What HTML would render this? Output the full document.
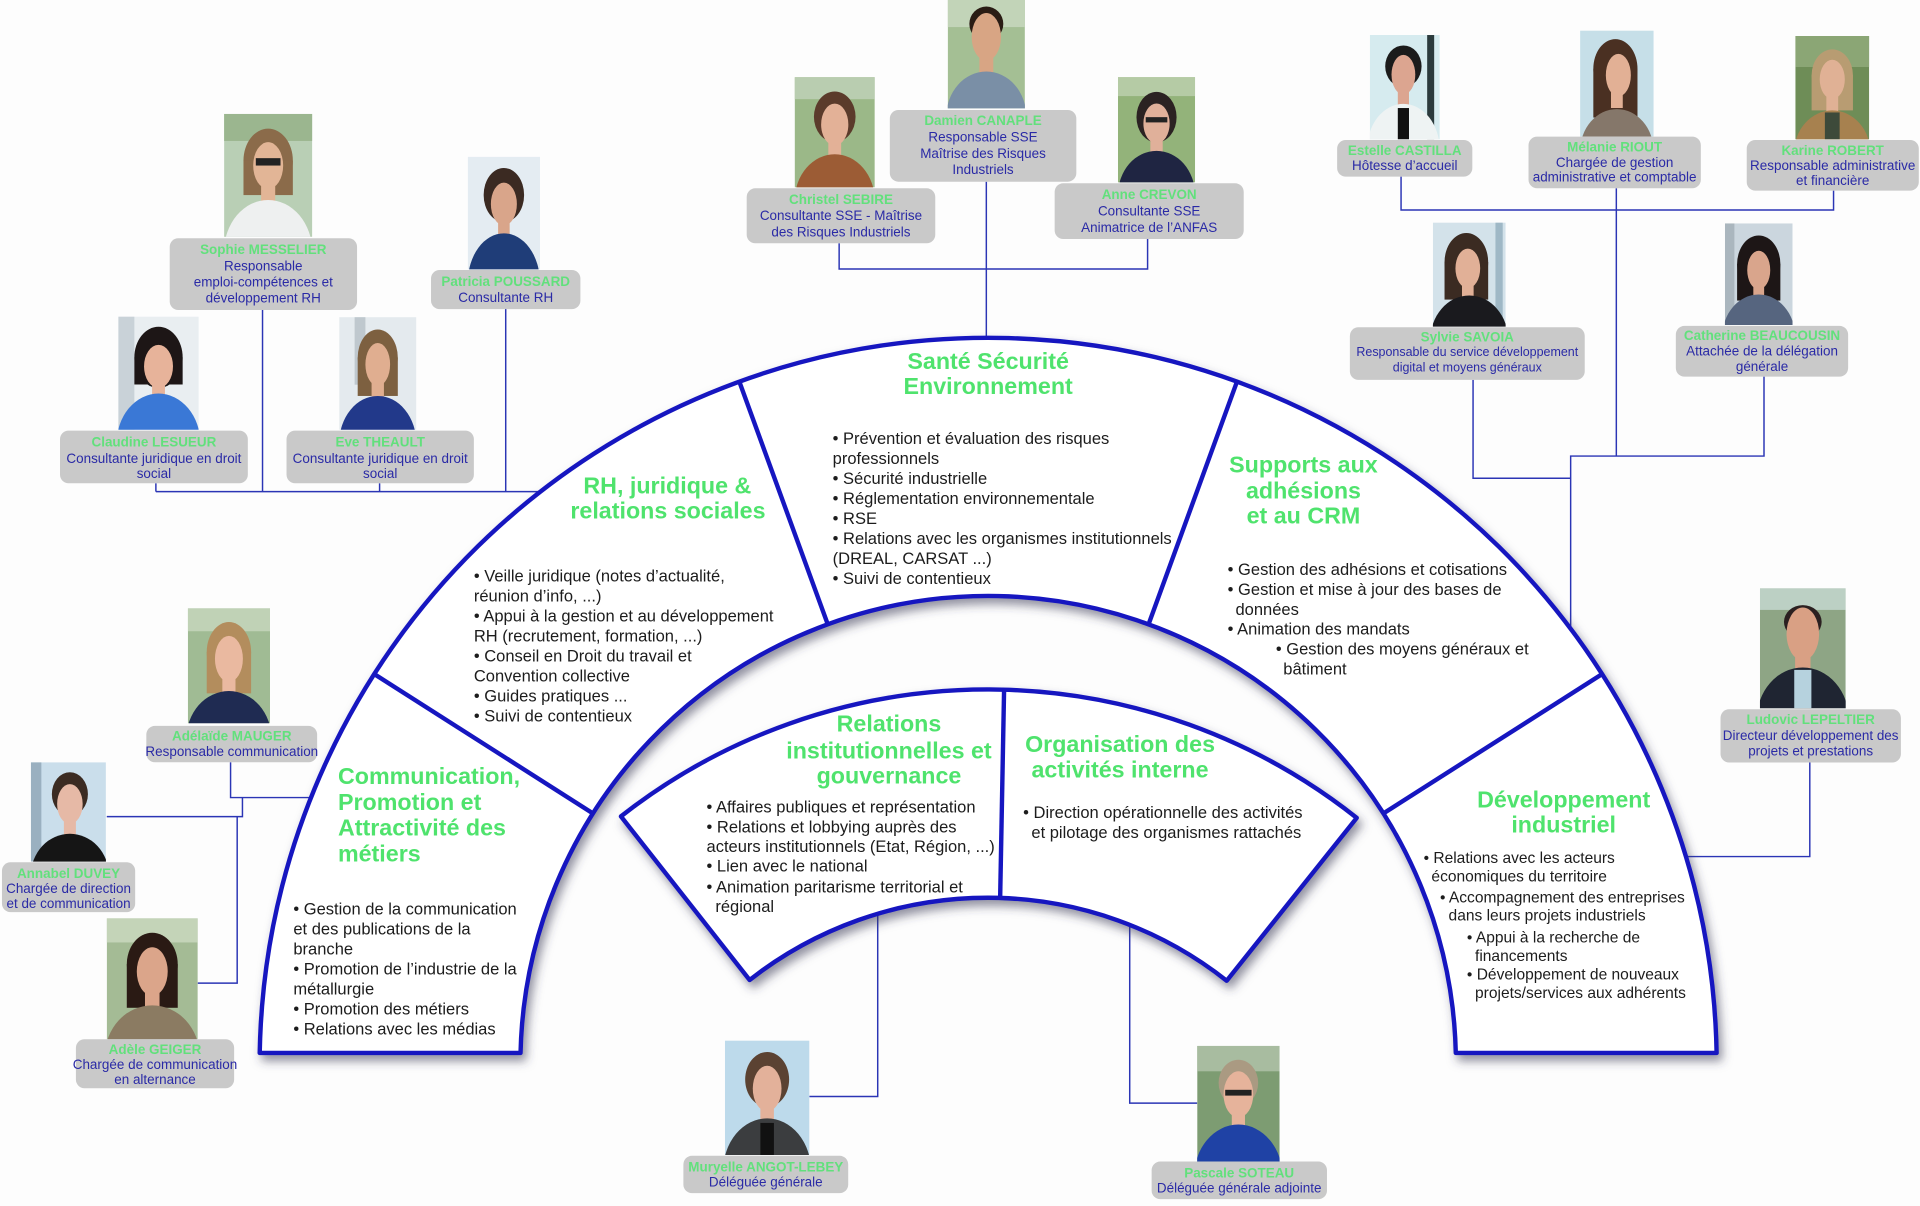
<!DOCTYPE html>
<html>
<head>
<meta charset="utf-8">
<style>
html,body{margin:0;padding:0;background:#fdfdfd;}
body{width:1920px;height:1206px;overflow:hidden;}
svg{display:block;}
.h{font-family:"Liberation Sans",Arial,sans-serif;font-weight:bold;font-size:19px;fill:#4fe36d;}
.b{font-family:"Liberation Sans",Arial,sans-serif;font-size:13.5px;fill:#1c1c1c;}
.bd{font-family:"Liberation Sans",Arial,sans-serif;font-size:12.7px;fill:#1c1c1c;}
.n{font-family:"Liberation Sans",Arial,sans-serif;font-weight:bold;font-size:11px;fill:#62e07c;text-anchor:middle;}
.t{font-family:"Liberation Sans",Arial,sans-serif;font-size:11px;fill:#2a2aa6;text-anchor:middle;}
.ts{font-family:"Liberation Sans",Arial,sans-serif;font-size:10.2px;fill:#2a2aa6;text-anchor:middle;}
.m{text-anchor:middle;}
.card{fill:#c9c9c9;}
.ln{fill:none;stroke:#2b35b5;stroke-width:1.2;}
.sh{fill:#fff;stroke:#1616c0;stroke-width:3.6;stroke-linejoin:round;}
.dv{stroke:#1616c0;stroke-width:3.6;}
</style>
</head>
<body>
<svg width="1920" height="1206" viewBox="0 0 1568 985" preserveAspectRatio="none" xmlns="http://www.w3.org/2000/svg">
<defs>
<filter id="sh" x="-10%" y="-10%" width="125%" height="130%">
<feDropShadow dx="3" dy="5" stdDeviation="4" flood-color="#3a3a55" flood-opacity="0.55"/>
</filter>
</defs>
<rect width="1568" height="985" fill="#fdfdfd"/>

<!-- connectors -->
<path class="ln" d="M214.4,253 V401.5 M413,252.4 V401.5 M127.3,394.7 V401.5 M310,394.7 V401.5 M127.3,401.5 H441"/>
<path class="ln" d="M685.3,198.7 V219.7 H937.2 V195.2 M805.5,148.4 V276"/>
<path class="ln" d="M1144.2,144.3 V171.5 H1497.4 V155.7 M1320,153.8 V372.5 M1203,310.3 V390.6 H1282.7 M1440.6,307.6 V372.5 H1282.7 V513"/>
<path class="ln" d="M188.3,622.6 V651.4 H254 M198,651.4 V667 H87.2 M193.7,667 V803 H161.5"/>
<path class="ln" d="M1478,622.8 V699.6 H1377"/>
<path class="ln" d="M716.8,746 V895.6 H661 M922.6,755 V901 H977.7"/>

<!-- outer ring -->
<g filter="url(#sh)">
<path class="sh" d="M212.1,860 A595,595 0 0 1 1401.9,860 L1188.9,860 A382,382 0 0 0 425.1,860 Z"/>
</g>
<line class="dv" x1="305.2" y1="550.3" x2="484.8" y2="664.7"/>
<line class="dv" x1="603.5" y1="310.9" x2="676.4" y2="511"/>
<line class="dv" x1="1010.5" y1="310.9" x2="937.6" y2="511"/>
<line class="dv" x1="1308.8" y1="550.3" x2="1129.2" y2="664.7"/>

<!-- inner sector -->
<g filter="url(#sh)">
<path class="sh" d="M507.1,666.8 A485,485 0 0 1 1108,668 L1001.8,801 A315,315 0 0 0 612.2,800.4 Z"/>
</g>
<line class="dv" x1="820" y1="563.5" x2="816.8" y2="733"/>

<!-- headings -->
<text class="h m" x="807" y="301.5">Santé Sécurité</text>
<text class="h m" x="807" y="322">Environnement</text>
<text class="h m" x="545" y="403">RH, juridique &amp;</text>
<text class="h m" x="545.5" y="423.5">relations sociales</text>
<text class="h m" x="1064.5" y="386">Supports aux</text>
<text class="h m" x="1064.5" y="407">adhésions</text>
<text class="h m" x="1064.5" y="427.5">et au CRM</text>
<text class="h" x="276" y="640.5">Communication,</text>
<text class="h" x="276" y="661.5">Promotion et</text>
<text class="h" x="276" y="682.5">Attractivité des</text>
<text class="h" x="276" y="703.5">métiers</text>
<text class="h m" x="1277" y="659.5">Développement</text>
<text class="h m" x="1277" y="680">industriel</text>
<text class="h m" x="726" y="597.5">Relations</text>
<text class="h m" x="726" y="619.5">institutionnelles et</text>
<text class="h m" x="726" y="640">gouvernance</text>
<text class="h m" x="914.7" y="614">Organisation des</text>
<text class="h m" x="914.7" y="635">activités interne</text>

<!-- SSE bullets -->
<text class="b" x="680" y="362.7">• Prévention et évaluation des risques</text>
<text class="b" x="680" y="379">professionnels</text>
<text class="b" x="680" y="395.3">• Sécurité industrielle</text>
<text class="b" x="680" y="411.6">• Réglementation environnementale</text>
<text class="b" x="680" y="427.9">• RSE</text>
<text class="b" x="680" y="444.2">• Relations avec les organismes institutionnels</text>
<text class="b" x="680" y="460.5">(DREAL, CARSAT ...)</text>
<text class="b" x="680" y="476.8">• Suivi de contentieux</text>

<!-- RH bullets -->
<text class="b" x="387" y="475">• Veille juridique (notes d’actualité,</text>
<text class="b" x="387" y="491.3">réunion d’info, ...)</text>
<text class="b" x="387" y="507.6">• Appui à la gestion et au développement</text>
<text class="b" x="387" y="523.9">RH (recrutement, formation, ...)</text>
<text class="b" x="387" y="540.2">• Conseil en Droit du travail et</text>
<text class="b" x="387" y="556.5">Convention collective</text>
<text class="b" x="387" y="572.8">• Guides pratiques ...</text>
<text class="b" x="387" y="589.1">• Suivi de contentieux</text>

<!-- Supports bullets -->
<text class="b" x="1002.6" y="469.5">• Gestion des adhésions et cotisations</text>
<text class="b" x="1002.6" y="485.8">• Gestion et mise à jour des bases de</text>
<text class="b" x="1009" y="502.1">données</text>
<text class="b" x="1002.6" y="518.4">• Animation des mandats</text>
<text class="b" x="1042" y="534.7">• Gestion des moyens généraux et</text>
<text class="b" x="1048" y="551">bâtiment</text>

<!-- Comm bullets -->
<text class="b" x="239.6" y="747">• Gestion de la communication</text>
<text class="b" x="239.6" y="763.3">et des publications de la</text>
<text class="b" x="239.6" y="779.6">branche</text>
<text class="b" x="239.6" y="795.9">• Promotion de l’industrie de la</text>
<text class="b" x="239.6" y="812.2">métallurgie</text>
<text class="b" x="239.6" y="828.5">• Promotion des métiers</text>
<text class="b" x="239.6" y="844.8">• Relations avec les médias</text>

<!-- Dev bullets -->
<text class="bd" x="1162.6" y="705">• Relations avec les acteurs</text>
<text class="bd" x="1169" y="720">économiques du territoire</text>
<text class="bd" x="1176" y="737">• Accompagnement des  entreprises</text>
<text class="bd" x="1183" y="752">dans leurs projets industriels</text>
<text class="bd" x="1198" y="770">• Appui à la recherche de</text>
<text class="bd" x="1204.6" y="785">financements</text>
<text class="bd" x="1198" y="800">• Développement de nouveaux</text>
<text class="bd" x="1204.6" y="815">projets/services aux adhérents</text>

<!-- Relations bullets -->
<text class="b" x="577" y="663.5">• Affaires publiques et représentation</text>
<text class="b" x="577" y="679.8">• Relations et lobbying auprès des</text>
<text class="b" x="577" y="696">acteurs institutionnels (Etat, Région, ...)</text>
<text class="b" x="577" y="712">• Lien avec le national</text>
<text class="b" x="577" y="729">• Animation paritarisme territorial et</text>
<text class="b" x="584.2" y="745">régional</text>

<!-- Organisation bullets -->
<text class="b" x="835.6" y="668">• Direction opérationnelle des activités</text>
<text class="b" x="842.3" y="684.5">et pilotage des organismes rattachés</text>

<!-- ===== PEOPLE ===== -->
<!-- 1 Sophie -->
<svg x="183" y="93" width="72" height="100.5" viewBox="0 0 100 100" preserveAspectRatio="none">
<rect width="100" height="100" fill="#b9cfb5"/><rect width="100" height="22" fill="#9bb68f"/>
<ellipse cx="50" cy="38" rx="28" ry="26" fill="#8b6b4a"/><rect x="22" y="38" width="56" height="28" fill="#8b6b4a"/>
<rect x="42" y="55" width="16" height="18" fill="#e2b596"/><ellipse cx="50" cy="112" rx="50" ry="42" fill="#eef0f0"/>
<ellipse cx="50" cy="42" rx="17" ry="19" fill="#e2b596"/><rect x="36" y="36" width="28" height="6" fill="#222"/>
</svg>
<rect class="card" x="138.6" y="194.6" width="153" height="58.6" rx="7"/>
<text class="n" x="215" y="207.5">Sophie MESSELIER</text>
<text class="t" x="215" y="221">Responsable</text>
<text class="t" x="215" y="234">emploi-compétences et</text>
<text class="t" x="215" y="247">développement RH</text>

<!-- 2 Patricia -->
<svg x="382" y="128" width="59" height="92" viewBox="0 0 100 100" preserveAspectRatio="none">
<rect width="100" height="100" fill="#e4ecf2"/>
<ellipse cx="50" cy="34" rx="28" ry="24" fill="#3b2a22"/>
<rect x="42" y="55" width="16" height="18" fill="#d9a58a"/><ellipse cx="50" cy="112" rx="50" ry="44" fill="#1f3d78"/>
<ellipse cx="50" cy="42" rx="18" ry="19" fill="#d9a58a"/>
</svg>
<rect class="card" x="352" y="220.5" width="122" height="32" rx="7"/>
<text class="n" x="413" y="233.5">Patricia POUSSARD</text>
<text class="t" x="413" y="246.8">Consultante RH</text>

<!-- 3 Claudine -->
<svg x="96.6" y="258.6" width="65.7" height="92.4" viewBox="0 0 100 100" preserveAspectRatio="none">
<rect width="100" height="100" fill="#e9eef1"/><rect width="20" height="100" fill="#c9d2d8"/>
<ellipse cx="50" cy="36" rx="30" ry="27" fill="#1d1616"/><rect x="20" y="36" width="60" height="24" fill="#1d1616"/>
<rect x="42" y="55" width="16" height="18" fill="#e7b39a"/><ellipse cx="50" cy="112" rx="52" ry="44" fill="#3a78d6"/>
<ellipse cx="50" cy="44" rx="18" ry="19" fill="#e7b39a"/>
</svg>
<rect class="card" x="49" y="351.7" width="153.4" height="43" rx="7"/>
<text class="n" x="125.7" y="364.7">Claudine LESUEUR</text>
<text class="t" x="125.7" y="378.3">Consultante juridique en droit</text>
<text class="t" x="125.7" y="390.5">social</text>

<!-- 4 Eve -->
<svg x="277" y="259" width="63" height="92" viewBox="0 0 100 100" preserveAspectRatio="none">
<rect width="100" height="100" fill="#e4eaee"/><rect x="20" width="14" height="60" fill="#bfc8ce"/>
<ellipse cx="50" cy="36" rx="26" ry="25" fill="#7d6040"/><rect x="24" y="36" width="52" height="34" fill="#7d6040"/>
<rect x="42" y="55" width="16" height="18" fill="#e0ae90"/><ellipse cx="50" cy="112" rx="50" ry="42" fill="#22398a"/>
<ellipse cx="50" cy="42" rx="16" ry="19" fill="#e0ae90"/>
</svg>
<rect class="card" x="234" y="351.7" width="153" height="43" rx="7"/>
<text class="n" x="310.5" y="364.7">Eve THEAULT</text>
<text class="t" x="310.5" y="378.3">Consultante juridique en droit</text>
<text class="t" x="310.5" y="390.5">social</text>

<!-- 5 Christel -->
<svg x="649" y="63" width="65.4" height="90" viewBox="0 0 100 100" preserveAspectRatio="none">
<rect width="100" height="100" fill="#9bb888"/><rect width="100" height="20" fill="#b9cdb0"/>
<ellipse cx="50" cy="36" rx="26" ry="23" fill="#5b3b2b"/>
<rect x="42" y="55" width="16" height="18" fill="#e3b197"/><ellipse cx="50" cy="112" rx="50" ry="42" fill="#9c5c35"/>
<ellipse cx="50" cy="43" rx="17" ry="19" fill="#e3b197"/>
</svg>
<rect class="card" x="609.8" y="153.8" width="154" height="44.9" rx="7"/>
<text class="n" x="686.8" y="166.8">Christel SEBIRE</text>
<text class="t" x="686.8" y="179.6">Consultante SSE - Maîtrise</text>
<text class="t" x="686.8" y="193.2">des Risques Industriels</text>

<!-- 6 Damien -->
<svg x="774" y="0" width="63" height="88.5" viewBox="0 0 100 100" preserveAspectRatio="none">
<rect width="100" height="100" fill="#a4bf94"/><rect width="100" height="25" fill="#c2d4b8"/>
<ellipse cx="50" cy="22" rx="22" ry="16" fill="#2a1c14"/>
<rect x="41" y="50" width="18" height="20" fill="#d8a584"/><ellipse cx="50" cy="108" rx="52" ry="42" fill="#7a8fa6"/>
<ellipse cx="50" cy="34" rx="19" ry="22" fill="#d8a584"/>
</svg>
<rect class="card" x="726.7" y="89.8" width="152.3" height="58.6" rx="7"/>
<text class="n" x="802.8" y="102">Damien CANAPLE</text>
<text class="t" x="802.8" y="115.6">Responsable SSE</text>
<text class="t" x="802.8" y="129.2">Maîtrise des Risques</text>
<text class="t" x="802.8" y="142.3">Industriels</text>

<!-- 7 Anne -->
<svg x="913" y="63" width="63" height="86" viewBox="0 0 100 100" preserveAspectRatio="none">
<rect width="100" height="100" fill="#93b37a"/><rect width="100" height="18" fill="#b5cba5"/>
<ellipse cx="50" cy="38" rx="26" ry="24" fill="#2b2222"/>
<rect x="42" y="55" width="16" height="18" fill="#e0b09a"/><ellipse cx="50" cy="112" rx="50" ry="42" fill="#1f2542"/>
<ellipse cx="50" cy="44" rx="17" ry="19" fill="#e0b09a"/><rect x="36" y="38" width="28" height="5" fill="#222"/>
</svg>
<rect class="card" x="861.3" y="149.7" width="154.4" height="45.5" rx="7"/>
<text class="n" x="938.5" y="162.4">Anne CREVON</text>
<text class="t" x="938.5" y="176">Consultante SSE</text>
<text class="t" x="938.5" y="189.6">Animatrice de l’ANFAS</text>

<!-- 8 Estelle -->
<svg x="1118.7" y="28.6" width="57.1" height="85.2" viewBox="0 0 100 100" preserveAspectRatio="none">
<rect width="100" height="100" fill="#d6ebef"/><rect x="82" width="10" height="100" fill="#2b3a3c"/>
<ellipse cx="48" cy="30" rx="26" ry="20" fill="#1b1b1b"/>
<rect x="40" y="50" width="16" height="18" fill="#dca590"/><ellipse cx="48" cy="110" rx="52" ry="44" fill="#eef3f3"/>
<rect x="40" y="70" width="16" height="30" fill="#111"/>
<ellipse cx="48" cy="38" rx="17" ry="19" fill="#dca590"/>
</svg>
<rect class="card" x="1092" y="114.3" width="110.4" height="30" rx="7"/>
<text class="n" x="1147.2" y="126.5">Estelle CASTILLA</text>
<text class="t" x="1147.2" y="138.7">Hôtesse d’accueil</text>

<!-- 9 Melanie -->
<svg x="1290.4" y="25" width="60.1" height="86.6" viewBox="0 0 100 100" preserveAspectRatio="none">
<rect width="100" height="100" fill="#c6dfe8"/>
<ellipse cx="48" cy="36" rx="30" ry="28" fill="#4a3022"/><rect x="18" y="36" width="60" height="46" fill="#4a3022"/>
<rect x="42" y="55" width="16" height="18" fill="#e2b095"/><ellipse cx="50" cy="114" rx="50" ry="40" fill="#85776a"/>
<ellipse cx="52" cy="42" rx="17" ry="20" fill="#e2b095"/>
</svg>
<rect class="card" x="1248.3" y="111.6" width="140.7" height="42.2" rx="7"/>
<text class="n" x="1318.6" y="123.8">Mélanie RIOUT</text>
<text class="t" x="1318.6" y="136.6">Chargée de gestion</text>
<text class="t" x="1318.6" y="148.3">administrative et comptable</text>

<!-- 10 Karine -->
<svg x="1466.2" y="29.4" width="60.3" height="84.4" viewBox="0 0 100 100" preserveAspectRatio="none">
<rect width="100" height="100" fill="#6e8d57"/><rect width="100" height="30" fill="#8ba675"/>
<ellipse cx="50" cy="38" rx="28" ry="25" fill="#b89c72"/><rect x="22" y="38" width="56" height="34" fill="#b89c72"/>
<rect x="42" y="55" width="16" height="18" fill="#e0b195"/><ellipse cx="50" cy="114" rx="52" ry="42" fill="#a7814f"/>
<rect x="40" y="74" width="20" height="26" fill="#3d4a3a"/>
<ellipse cx="50" cy="42" rx="17" ry="19" fill="#e0b195"/>
</svg>
<rect class="card" x="1426.5" y="114.3" width="140.5" height="41.4" rx="7"/>
<text class="n" x="1496.7" y="126.5">Karine ROBERT</text>
<text class="t" x="1496.7" y="138.7">Responsable administrative</text>
<text class="t" x="1496.7" y="151">et financière</text>

<!-- 11 Sylvie -->
<svg x="1170.2" y="181.8" width="59.4" height="85" viewBox="0 0 100 100" preserveAspectRatio="none">
<rect width="100" height="100" fill="#d3e2ea"/><rect x="86" width="10" height="100" fill="#9fb8c6"/>
<ellipse cx="46" cy="38" rx="30" ry="28" fill="#3b2b22"/><rect x="16" y="38" width="60" height="36" fill="#3b2b22"/>
<rect x="40" y="55" width="16" height="18" fill="#e1b097"/><ellipse cx="50" cy="114" rx="54" ry="44" fill="#1a1a1e"/>
<ellipse cx="48" cy="44" rx="17" ry="19" fill="#e1b097"/>
</svg>
<rect class="card" x="1102.4" y="267.3" width="191.8" height="43" rx="7"/>
<text class="n" x="1198.3" y="279">Sylvie SAVOIA</text>
<text class="ts" x="1198.3" y="290.6">Responsable du service développement</text>
<text class="ts" x="1198.3" y="303.4">digital et moyens généraux</text>

<!-- 12 Catherine -->
<svg x="1408.7" y="182.4" width="55.2" height="83" viewBox="0 0 100 100" preserveAspectRatio="none">
<rect width="100" height="100" fill="#cbd6de"/><rect width="14" height="100" fill="#aab6be"/>
<ellipse cx="50" cy="40" rx="32" ry="28" fill="#1d1616"/><rect x="18" y="40" width="64" height="36" fill="#1d1616"/>
<rect x="42" y="55" width="16" height="18" fill="#d9a58c"/><ellipse cx="50" cy="112" rx="54" ry="42" fill="#56657f"/>
<ellipse cx="50" cy="46" rx="17" ry="19" fill="#d9a58c"/>
</svg>
<rect class="card" x="1368.6" y="266.2" width="140.7" height="41.4" rx="7"/>
<text class="n" x="1439" y="277.6">Catherine BEAUCOUSIN</text>
<text class="t" x="1439" y="290.4">Attachée de la délégation</text>
<text class="t" x="1439" y="302.9">générale</text>

<!-- 13 Adelaide -->
<svg x="153.4" y="496.8" width="67.1" height="93.9" viewBox="0 0 100 100" preserveAspectRatio="none">
<rect width="100" height="100" fill="#a0bb94"/><rect width="100" height="20" fill="#c0d2b6"/>
<ellipse cx="50" cy="38" rx="27" ry="26" fill="#b38d5d"/><rect x="23" y="38" width="54" height="36" fill="#b38d5d"/>
<rect x="42" y="55" width="16" height="18" fill="#eab9a0"/><ellipse cx="50" cy="114" rx="52" ry="42" fill="#1f2b52"/>
<ellipse cx="50" cy="44" rx="17" ry="20" fill="#eab9a0"/>
</svg>
<rect class="card" x="119.5" y="592.9" width="139.5" height="29.7" rx="7"/>
<text class="n" x="189.3" y="604.8">Adélaïde MAUGER</text>
<text class="t" x="189.3" y="617.3">Responsable communication</text>

<!-- 14 Annabel -->
<svg x="25.2" y="622.6" width="61.3" height="81.1" viewBox="0 0 100 100" preserveAspectRatio="none">
<rect width="100" height="100" fill="#cadeeb"/><rect width="14" height="100" fill="#9ab0c0"/>
<ellipse cx="52" cy="32" rx="24" ry="22" fill="#3b2b22"/>
<rect x="44" y="55" width="16" height="18" fill="#e6b9a6"/><ellipse cx="52" cy="114" rx="52" ry="42" fill="#151515"/>
<ellipse cx="52" cy="42" rx="17" ry="20" fill="#e6b9a6"/>
</svg>
<rect class="card" x="1.6" y="704.2" width="108.8" height="40.8" rx="7"/>
<text class="n" x="56" y="717.2">Annabel DUVEY</text>
<text class="t" x="56" y="729.5">Chargée de direction</text>
<text class="t" x="56" y="741.7">et de communication</text>

<!-- 15 Adele -->
<svg x="87.2" y="750" width="74.3" height="98.8" viewBox="0 0 100 100" preserveAspectRatio="none">
<rect width="100" height="100" fill="#a4bb95"/><rect width="100" height="20" fill="#c4d4b8"/>
<ellipse cx="50" cy="38" rx="28" ry="26" fill="#2a1a14"/><rect x="22" y="38" width="56" height="36" fill="#2a1a14"/>
<rect x="42" y="55" width="16" height="18" fill="#dba58a"/><ellipse cx="50" cy="114" rx="52" ry="42" fill="#8b7b62"/>
<ellipse cx="50" cy="44" rx="17" ry="20" fill="#dba58a"/>
</svg>
<rect class="card" x="62" y="848.8" width="129.2" height="40" rx="7"/>
<text class="n" x="126.6" y="861">Adèle GEIGER</text>
<text class="t" x="126.6" y="873.2">Chargée de communication</text>
<text class="t" x="126.6" y="885.4">en alternance</text>

<!-- 16 Ludovic -->
<svg x="1437.3" y="480.5" width="70" height="98" viewBox="0 0 100 100" preserveAspectRatio="none">
<rect width="100" height="100" fill="#8ea585"/><rect width="100" height="18" fill="#bcd0c4"/>
<ellipse cx="50" cy="28" rx="22" ry="14" fill="#2b2020"/>
<rect x="41" y="50" width="18" height="20" fill="#d9a084"/><ellipse cx="50" cy="110" rx="54" ry="44" fill="#1f2532"/>
<rect x="40" y="68" width="20" height="32" fill="#b6d2de"/>
<ellipse cx="50" cy="38" rx="19" ry="22" fill="#d9a084"/>
</svg>
<rect class="card" x="1405.1" y="579.3" width="147.3" height="43.5" rx="7"/>
<text class="n" x="1478.7" y="591.5">Ludovic LEPELTIER</text>
<text class="t" x="1478.7" y="604.2">Directeur développement des</text>
<text class="t" x="1478.7" y="617">projets et prestations</text>

<!-- 17 Muryelle -->
<svg x="592" y="849.9" width="69" height="93.4" viewBox="0 0 100 100" preserveAspectRatio="none">
<rect width="100" height="100" fill="#bddaeb"/>
<ellipse cx="50" cy="34" rx="26" ry="24" fill="#5b4232"/>
<rect x="42" y="55" width="16" height="18" fill="#e3b19a"/><ellipse cx="50" cy="114" rx="52" ry="46" fill="#3b3d3f"/>
<rect x="42" y="72" width="16" height="28" fill="#111"/>
<ellipse cx="50" cy="42" rx="17" ry="20" fill="#e3b19a"/>
</svg>
<rect class="card" x="558.1" y="944" width="134.6" height="30.5" rx="7"/>
<text class="n" x="625.4" y="956.8">Muryelle ANGOT-LEBEY</text>
<text class="t" x="625.4" y="969">Déléguée générale</text>

<!-- 18 Pascale -->
<svg x="977.7" y="854.2" width="67.3" height="94.5" viewBox="0 0 100 100" preserveAspectRatio="none">
<rect width="100" height="100" fill="#7d9c72"/><rect width="100" height="22" fill="#a8bca0"/>
<ellipse cx="50" cy="32" rx="24" ry="20" fill="#aa9a82"/>
<rect x="42" y="55" width="16" height="18" fill="#e6b39b"/><ellipse cx="50" cy="114" rx="54" ry="46" fill="#1f42a5"/>
<ellipse cx="50" cy="42" rx="18" ry="20" fill="#e6b39b"/><rect x="34" y="38" width="32" height="5" fill="#222"/>
</svg>
<rect class="card" x="940.5" y="948.7" width="143.2" height="30.7" rx="7"/>
<text class="n" x="1012" y="961.7">Pascale SOTEAU</text>
<text class="t" x="1012" y="974">Déléguée générale adjointe</text>

</svg>
</body>
</html>
